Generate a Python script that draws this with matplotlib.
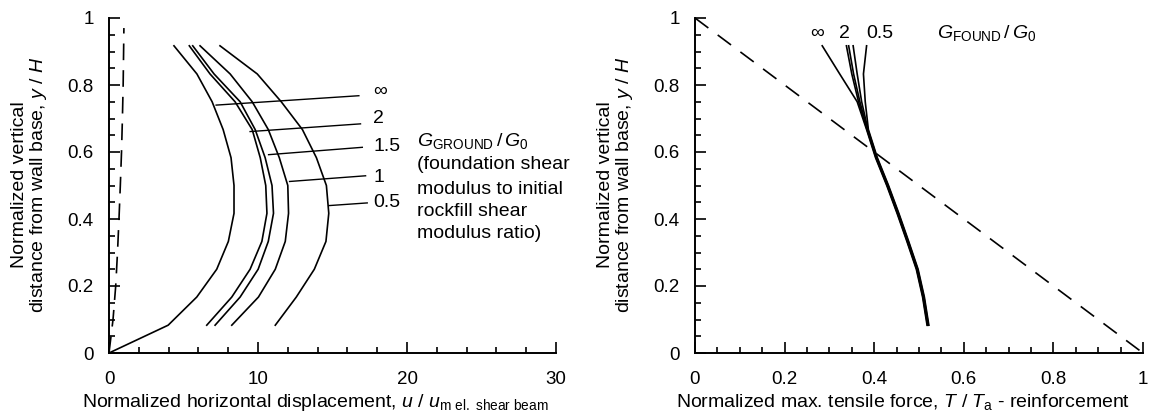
import matplotlib
matplotlib.use("Agg")
import matplotlib.pyplot as plt
from matplotlib.ticker import MultipleLocator

plt.rcParams['font.family'] = ['Liberation Sans', 'DejaVu Sans']
plt.rcParams['mathtext.fontset'] = 'custom'
plt.rcParams['mathtext.rm'] = 'Liberation Sans'
plt.rcParams['mathtext.it'] = 'Liberation Sans:italic'
plt.rcParams['mathtext.bf'] = 'Liberation Sans:bold'

FS = 14
FT = 13.5

# ---------------- data: left panel ----------------
y_levels = [0.083, 0.167, 0.25, 0.333, 0.417, 0.5, 0.583, 0.667, 0.75, 0.833, 0.917]
y_inf_left = [0.0] + y_levels
u_inf = [0.0, 3.97, 5.89, 7.23, 8.01, 8.39, 8.39, 8.19, 7.66, 6.92, 5.90, 4.36]
u_2 = [6.56, 8.24, 9.47, 10.26, 10.60, 10.52, 10.15, 9.61, 8.46, 6.78, 5.39]
u_15 = [7.12, 8.80, 10.01, 10.69, 11.04, 10.94, 10.48, 9.81, 8.80, 7.05, 5.62]
u_1 = [8.24, 10.03, 11.16, 11.83, 12.05, 12.00, 11.43, 10.69, 9.61, 8.13, 6.11]
u_05 = [11.16, 12.57, 13.78, 14.56, 14.75, 14.59, 13.92, 12.98, 11.56, 9.95, 7.45]

# shear-beam reference (dashed)
y_beam = [0.0, 0.1, 0.2, 0.3, 0.4, 0.5, 0.6, 0.7, 0.8, 0.9, 0.97]
u_beam = [0.0, 0.27, 0.45, 0.57, 0.67, 0.76, 0.84, 0.90, 0.95, 0.98, 1.0]

left_ratio_labels = ['\u221e', '2', '1.5', '1', '0.5']
left_label_y = [0.781, 0.701, 0.617, 0.525, 0.448]
leader_x0 = [7.19, 9.47, 10.71, 12.12, 14.75]
leader_y0 = [0.740, 0.661, 0.592, 0.512, 0.440]
leader_x1 = [16.77, 16.88, 17.0, 17.22, 17.33]
leader_y1 = [0.768, 0.684, 0.614, 0.529, 0.448]

left_xticks = [0, 10, 20, 30]
left_xticklabels = ['0', '10', '20', '30']
yticks = [0, 0.2, 0.4, 0.6, 0.8, 1.0]
yticklabels = ['0', '0.2', '0.4', '0.6', '0.8', '1']

# ---------------- data: right panel ----------------
T_inf = [0.518, 0.508, 0.494, 0.473, 0.451, 0.428, 0.403, 0.383, 0.362, 0.323, 0.284]
T_2 = [0.519, 0.509, 0.495, 0.474, 0.452, 0.429, 0.404, 0.384, 0.365, 0.350, 0.338]
T_15 = [0.520, 0.510, 0.496, 0.475, 0.453, 0.430, 0.405, 0.385, 0.368, 0.354, 0.343]
T_1 = [0.521, 0.511, 0.497, 0.476, 0.454, 0.431, 0.406, 0.386, 0.372, 0.362, 0.353]
T_05 = [0.522, 0.512, 0.498, 0.477, 0.455, 0.432, 0.407, 0.387, 0.380, 0.376, 0.383]
T_ref = [0.0, 1.0]
y_ref = [1.0, 0.0]

right_labels = ['\u221e', '2', '0.5']
right_label_x = [0.272, 0.333, 0.413]
right_label_y = 0.955

right_xticks = [0, 0.2, 0.4, 0.6, 0.8, 1.0]
right_xticklabels = ['0', '0.2', '0.4', '0.6', '0.8', '1']

# ---------------- figure ----------------
W, H = 1149, 416
fig = plt.figure(figsize=(W / 100, H / 100), dpi=100)

axL = fig.add_axes([109 / W, (H - 353) / H, 447 / W, 335 / H])
axR = fig.add_axes([695 / W, (H - 353) / H, 448 / W, 335 / H])

lw = 1.2
for ax in (axL, axR):
    for s in ('top', 'right'):
        ax.spines[s].set_visible(False)
    for s in ('left', 'bottom'):
        ax.spines[s].set_linewidth(1.4)
    ax.tick_params(which='both', direction='in', width=1.2, labelsize=FT)
    ax.tick_params(which='major', length=8)
    ax.tick_params(which='minor', length=4)
    ax.tick_params(axis='x', which='both', pad=13)
    ax.tick_params(axis='y', which='both', pad=11)
    ax.set_ylim(0, 1)
    ax.set_yticks(yticks)
    ax.set_yticklabels(yticklabels)
    ax.yaxis.set_minor_locator(MultipleLocator(0.05))

# left panel
axL.set_xlim(0, 30)
axL.set_xticks(left_xticks)
axL.set_xticklabels(left_xticklabels)
axL.xaxis.set_minor_locator(MultipleLocator(2))

axL.plot(u_beam, y_beam, color='black', lw=lw, dashes=(10, 6))
axL.plot(u_inf, y_inf_left, color='black', lw=lw)
for u in (u_2, u_15, u_1, u_05):
    axL.plot(u, y_levels, color='black', lw=lw)
for i, lab in enumerate(left_ratio_labels):
    axL.plot([leader_x0[i], leader_x1[i]], [leader_y0[i], leader_y1[i]], color='black', lw=1.0)
    axL.text(17.75, left_label_y[i], lab, fontsize=FS, ha='left', va='center')

axL.text(20.7, 0.632, r'$G_{\mathrm{GROUND}}\,/\,G_0$', fontsize=FS, ha='left', va='center')
block = ['(foundation shear', 'modulus to initial', 'rockfill shear', 'modulus ratio)']
block_y = [0.562, 0.487, 0.421, 0.358]
for t, yy in zip(block, block_y):
    axL.text(20.7, yy, t, fontsize=FS, ha='left', va='center')

# right panel
axR.set_xlim(0, 1)
axR.set_xticks(right_xticks)
axR.set_xticklabels(right_xticklabels)
axR.xaxis.set_minor_locator(MultipleLocator(0.05))

axR.plot(T_ref, y_ref, color='black', lw=lw, dashes=(10, 7))
for T in (T_inf, T_2, T_15, T_1, T_05):
    axR.plot(T, y_levels, color='black', lw=lw)
for lab, xx in zip(right_labels, right_label_x):
    axR.text(xx, right_label_y, lab, fontsize=FS, ha='center', va='center')
axR.text(0.54, right_label_y, r'$G_{\mathrm{FOUND}}\,/\,G_0$', fontsize=FS, ha='left', va='center')

for ax in (axL, axR):
    for line in ax.lines:
        line.set_clip_on(False)

# axis labels
ylab = 'Normalized vertical\ndistance from wall base, $y$ / $H$'
fig.text(30 / W, (H - 185) / H, ylab, rotation=90, fontsize=FS, ha='center', va='center',
         multialignment='center', linespacing=1.0)
fig.text(616 / W, (H - 185) / H, ylab, rotation=90, fontsize=FS, ha='center', va='center',
         multialignment='center', linespacing=1.0)
fig.text(315 / W, 9 / H, r'Normalized horizontal displacement, $u$ / $u_{\mathrm{m\ el.\ shear\ beam}}$',
         fontsize=FS, ha='center', va='baseline')
fig.text(903 / W, 9 / H, r'Normalized max. tensile force, $T$ / $T_{\mathrm{a}}$ - reinforcement',
         fontsize=FS, ha='center', va='baseline')

fig.savefig('out.png', dpi=100)
